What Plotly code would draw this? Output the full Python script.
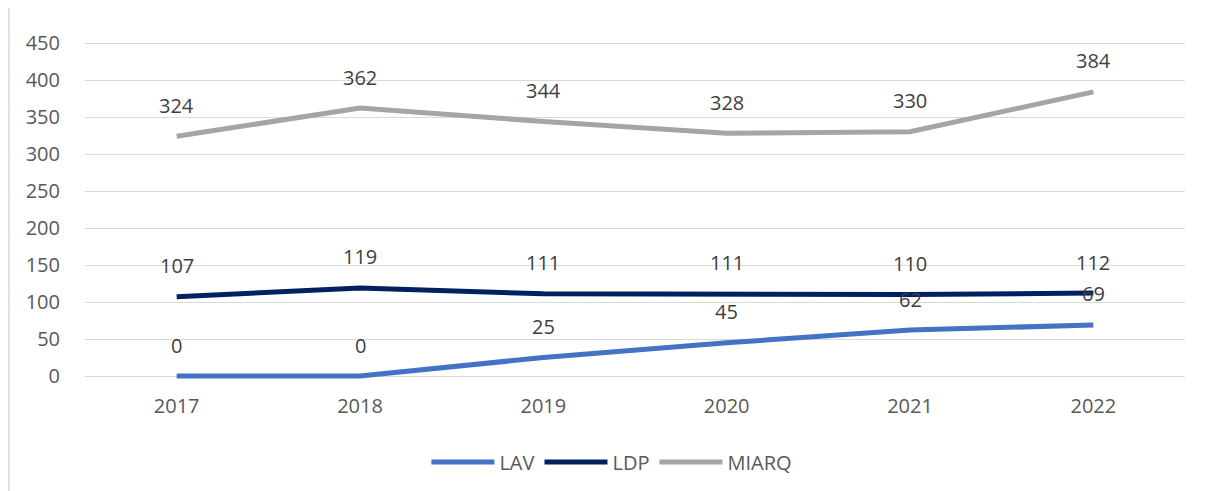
import plotly.graph_objects as go

years = ["2017", "2018", "2019", "2020", "2021", "2022"]
lav = [0, 0, 25, 45, 62, 69]
ldp = [107, 119, 111, 111, 110, 112]
miarq = [324, 362, 344, 328, 330, 384]
y_ticks = [0, 50, 100, 150, 200, 250, 300, 350, 400, 450]

series = [
    ("LAV", lav, "#4472C4"),
    ("LDP", ldp, "#002060"),
    ("MIARQ", miarq, "#A5A5A5"),
]

FONT = "Open Sans"
fig = go.Figure()
for name, vals, color in series:
    fig.add_trace(go.Scatter(
        x=years, y=vals, name=name, mode="lines",
        line=dict(color=color, width=5),
    ))

for name, vals, color in series:
    for i, v in enumerate(vals):
        fig.add_annotation(
            x=i, y=v, xref="x", yref="y", text=str(v), showarrow=False,
            yshift=31, yanchor="middle", xanchor="center",
            font=dict(family=FONT, size=20, color="#404040"),
        )

# page body adds an 8px offset, so the figure is 8px smaller
W, H = 1197, 483
PX_PER_UNIT = 37 / 50
T, B = 28, 108
pad_units = 7 / PX_PER_UNIT

fig.update_layout(
    width=W, height=H, autosize=False,
    margin=dict(l=77, r=20, t=T, b=B, pad=0, autoexpand=False),
    paper_bgcolor="white", plot_bgcolor="white",
    font=dict(family=FONT, size=20, color="#595959"),
    xaxis=dict(
        type="category", range=[-0.5, 5.5], showgrid=False, zeroline=False,
        showline=False, ticks="outside", ticklen=5, tickcolor="rgba(0,0,0,0)",
        tickfont=dict(family=FONT, size=20, color="#595959"),
    ),
    yaxis=dict(
        range=[-pad_units, 450 + pad_units], tickvals=y_ticks, showgrid=True,
        gridcolor="#D9D9D9", gridwidth=1.3, zeroline=False, showline=False,
        ticks="outside", ticklen=20, tickcolor="rgba(0,0,0,0)",
        tickfont=dict(family=FONT, size=20, color="#595959"),
    ),
    legend=dict(
        orientation="h", x=0.479, xanchor="center", y=-0.228, yanchor="middle",
        font=dict(family=FONT, size=20, color="#595959"),
        itemwidth=63, tracegroupgap=0,
    ),
    shapes=[dict(
        type="rect", xref="paper", yref="paper",
        x0=(9 - 85) / 1100, x1=1.2, y0=-0.6, y1=(376 - 14) / 333,
        line=dict(color="#D9D9D9", width=1.5), fillcolor="rgba(0,0,0,0)",
        layer="below",
    )],
)

fig.write_html("out.html")
